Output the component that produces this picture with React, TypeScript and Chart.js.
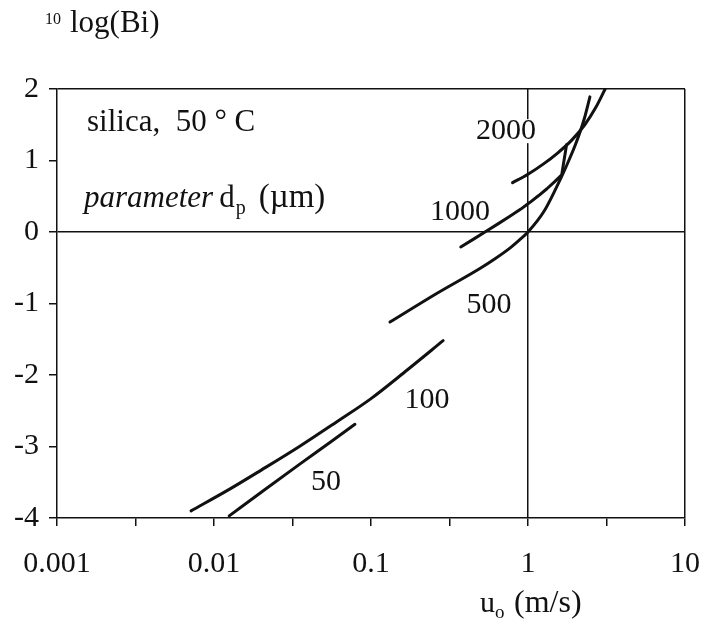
import React, { useEffect, useRef } from 'react';
import { Chart, registerables } from 'chart.js';

Chart.register(...registerables);

const SERIF = '"Liberation Serif", "Times New Roman", serif';
const INK = '#111111';

// particle diameters (µm)
const seriesNames = ['50', '100', '500', '1000', '2000'];

// u0 (m/s) and 10log(Bi) per curve
const u50 = [0.0125, 0.02, 0.035, 0.055, 0.079];
const bi50 = [-3.97, -3.64, -3.25, -2.94, -2.69];

const u100 = [0.00714, 0.0125, 0.02, 0.035, 0.06, 0.1, 0.17, 0.288];
const bi100 = [-3.9, -3.6, -3.33, -3.0, -2.66, -2.33, -1.93, -1.52];

const u500 = [0.132, 0.262, 0.494, 0.62, 0.767, 0.88, 1.0, 1.265, 1.507, 1.746, 2.02, 2.27, 2.48];
const bi500 = [-1.26, -0.86, -0.51, -0.37, -0.225, -0.115, 0.0, 0.29, 0.61, 0.91, 1.24, 1.566, 1.89];

const u1000 = [0.373, 0.45, 0.532, 0.64, 0.767, 0.9, 1.03, 1.17, 1.32, 1.48, 1.64, 1.76];
const bi1000 = [-0.21, -0.1, 0.0, 0.11, 0.22, 0.32, 0.415, 0.51, 0.605, 0.705, 0.8, 1.22];

const u2000 = [0.798, 1.0, 1.25, 1.55, 1.9, 2.3, 2.7, 3.1];
const bi2000 = [0.69, 0.808, 0.949, 1.108, 1.285, 1.5, 1.74, 2.0];

// curve label anchors (data coordinates)
const labelU = [0.0517, 0.227, 0.565, 0.369, 0.724];
const labelBi = [-3.5, -2.35, -1.02, 0.28, 1.41];

// axes
const xMin = 0.001;
const xMax = 10;
const yMin = -4;
const yMax = 2;
const xMajorTicks = [0.001, 0.01, 0.1, 1, 10];
const xTickLabels = ['0.001', '0.01', '0.1', '1', '10'];
const xMinorTicks = [0.00316, 0.0316, 0.316, 3.16];
const yTicks = [-4, -3, -2, -1, 0, 1, 2];
const xRefLines = [1, 10];
const yRefLines = [0, 2];

const near = (a: number, b: number) => Math.abs(a - b) <= Math.abs(b) * 1e-6;

const toPoints = (u: number[], b: number[]) => u.map((v, i) => ({ x: v, y: b[i] }));

const allSeries = [
  toPoints(u50, bi50),
  toPoints(u100, bi100),
  toPoints(u500, bi500),
  toPoints(u1000, bi1000),
  toPoints(u2000, bi2000),
];

const annotatePlugin = {
  id: 'annotate',
  afterDatasetsDraw(chart: any) {
    const { ctx, scales } = chart;
    const xs = scales.x;
    const ys = scales.y;
    ctx.save();
    ctx.textAlign = 'center';
    ctx.textBaseline = 'middle';
    ctx.font = `30px ${SERIF}`;
    seriesNames.forEach((t, i) => {
      const px = xs.getPixelForValue(labelU[i]);
      const py = ys.getPixelForValue(labelBi[i]);
      const w = ctx.measureText(t).width;
      ctx.fillStyle = '#ffffff';
      ctx.fillRect(px - w / 2 - 2, py - 12, w + 4, 24);
      ctx.fillStyle = INK;
      ctx.fillText(t, px, py);
    });

    // in-plot notes
    ctx.textAlign = 'left';
    ctx.textBaseline = 'alphabetic';
    ctx.fillStyle = INK;
    const left = chart.chartArea.left;
    ctx.font = `31px ${SERIF}`;
    ctx.fillText('silica,  50 \u00b0 C', left + 30, 131);

    let cx = left + 27;
    const by = 207;
    ctx.font = `italic 31px ${SERIF}`;
    ctx.fillText('parameter', cx, by);
    cx += ctx.measureText('parameter').width + 6;
    ctx.font = `31px ${SERIF}`;
    ctx.fillText('d', cx, by);
    cx += ctx.measureText('d').width + 1;
    ctx.font = `20px ${SERIF}`;
    ctx.fillText('p', cx, by + 7);
    cx += ctx.measureText('p').width + 13;
    ctx.font = `33px ${SERIF}`;
    ctx.fillText('(\u00b5m)', cx, by);

    // y axis title
    ctx.font = `16px ${SERIF}`;
    ctx.fillText('10', 45, 24);
    ctx.font = `31px ${SERIF}`;
    ctx.fillText('log(Bi)', 70, 32);

    // x axis title
    ctx.font = `30px ${SERIF}`;
    ctx.fillText('u', 480, 612);
    ctx.font = `19px ${SERIF}`;
    ctx.fillText('o', 495, 618);
    ctx.font = `32px ${SERIF}`;
    ctx.fillText('(m/s)', 514, 612);
    ctx.restore();
  },
};

export default function App() {
  const ref = useRef<HTMLCanvasElement | null>(null);

  useEffect(() => {
    if (!ref.current) return;
    const chart = new Chart(ref.current, {
      type: 'line',
      data: {
        datasets: allSeries.map((pts, i) => ({
          label: seriesNames[i],
          data: pts,
          borderColor: INK,
          borderWidth: 3,
          pointRadius: 0,
          fill: false,
          tension: seriesNames[i] === '1000' ? 0 : 0.4,
          cubicInterpolationMode: (seriesNames[i] === '1000' ? 'default' : 'monotone') as any,
          borderJoinStyle: 'round' as const,
          borderCapStyle: 'round' as const,
        })),
      },
      plugins: [annotatePlugin],
      options: {
        animation: false,
        responsive: false,
        devicePixelRatio: 1,
        parsing: false as any,
        layout: { padding: { top: 89, right: 24, left: 0, bottom: 0 } },
        plugins: {
          legend: { display: false },
          tooltip: { enabled: false },
          title: { display: false },
        },
        scales: {
          x: {
            type: 'logarithmic',
            min: xMin,
            max: xMax,
            afterFit: (s: any) => {
              s.height = 101;
              s.paddingLeft = 0;
              s.paddingRight = 0;
            },
            afterBuildTicks: (s: any) => {
              s.ticks = [...xMajorTicks, ...xMinorTicks]
                .sort((a, b) => a - b)
                .map((v) => ({ value: v }));
            },
            border: { display: true, color: INK, width: 1.5 },
            grid: {
              color: (c: any) =>
                c.tick && xRefLines.some((r) => near(c.tick.value, r)) ? INK : 'rgba(0,0,0,0)',
              tickColor: INK,
              lineWidth: 1.5,
              tickWidth: 1.5,
              tickLength: 8,
            },
            ticks: {
              autoSkip: false,
              maxRotation: 0,
              padding: 20,
              color: INK,
              font: { family: SERIF, size: 30 },
              callback: (v: any) => {
                const i = xMajorTicks.findIndex((m) => near(Number(v), m));
                return i >= 0 ? xTickLabels[i] : '';
              },
            },
          },
          y: {
            type: 'linear',
            min: yMin,
            max: yMax,
            afterFit: (s: any) => {
              s.width = 57;
              s.paddingTop = 0;
              s.paddingBottom = 0;
            },
            afterBuildTicks: (s: any) => {
              s.ticks = yTicks.map((v) => ({ value: v }));
            },
            border: { display: true, color: INK, width: 1.5 },
            grid: {
              color: (c: any) =>
                c.tick && yRefLines.includes(c.tick.value) ? INK : 'rgba(0,0,0,0)',
              tickColor: INK,
              lineWidth: 1.5,
              tickWidth: 1.5,
              tickLength: 8,
            },
            ticks: {
              padding: 10,
              color: INK,
              font: { family: SERIF, size: 30 },
              callback: (v: any) => String(v),
            },
          },
        },
      },
    });
    return () => chart.destroy();
  }, []);

  return (
    <div style={{ position: 'fixed', left: 0, top: 0, width: 709, height: 619, background: '#fff' }}>
      <canvas ref={ref} width={709} height={619} style={{ width: 709, height: 619, display: 'block' }} />
    </div>
  );
}
